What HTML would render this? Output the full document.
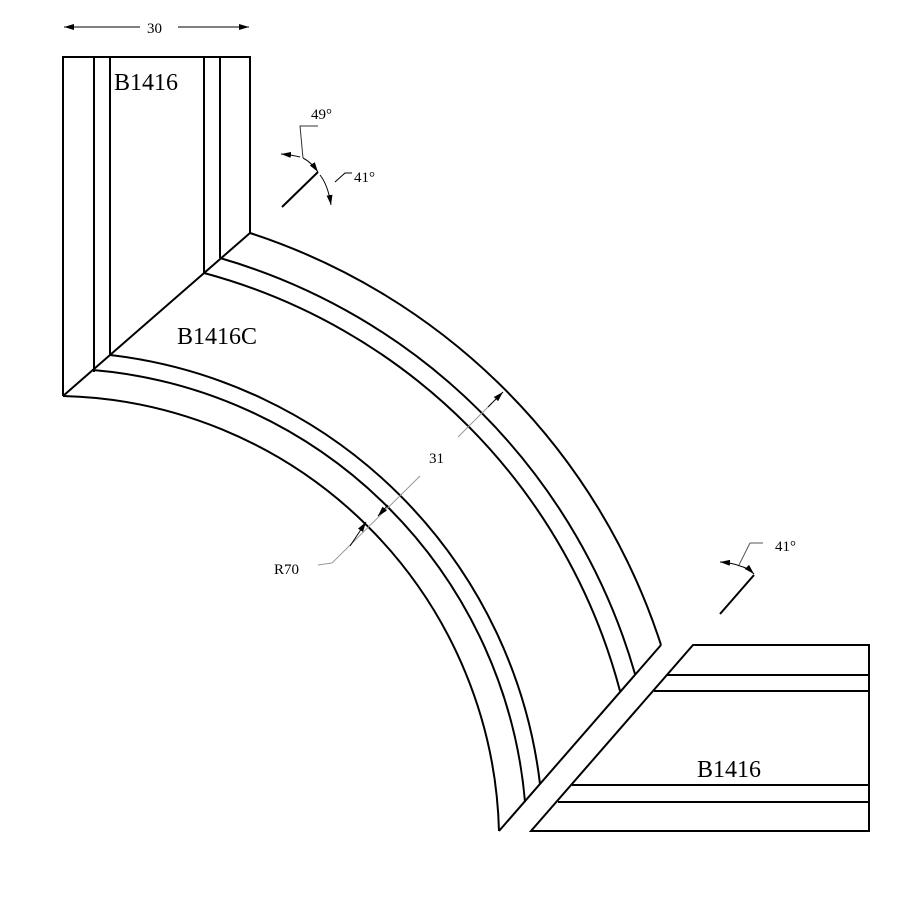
<!DOCTYPE html>
<html><head><meta charset="utf-8"><style>html,body{margin:0;padding:0;background:#fff}svg{display:block}</style></head>
<body>
<svg width="900" height="900" viewBox="0 0 900 900" xmlns="http://www.w3.org/2000/svg">
<defs>
<marker id="a" viewBox="0 0 10 6" refX="10" refY="3" markerWidth="10" markerHeight="6" orient="auto" markerUnits="userSpaceOnUse"><path d="M0,0L10,3L0,6z" fill="#000"/></marker>
</defs>
<g fill="none" stroke="#000" stroke-width="2">
<!-- top block -->
<path d="M63,396 L63,57 L250,57 L250,233"/>
<path d="M94,57 L94,372 M110,57 L110,355 M204,57 L204,273 M220,57 L220,258"/>
<path d="M63,396 L250,233"/>
<!-- arcs centre (52,842) -->
<path d="M63,396 A447,447 0 0 1 499,831"/>
<path d="M93,370 A474,474 0 0 1 525,802"/>
<path d="M110,355 A490,490 0 0 1 540,784"/>
<path d="M204,273 A588,588 0 0 1 620,691"/>
<path d="M220,258 A607,607 0 0 1 635,674"/>
<path d="M250,233 A640,640 0 0 1 661,645"/>
<path d="M661,645 L499,831"/>
<!-- bottom block -->
<path d="M693,645 L869,645 L869,831 L531,831 Z"/>
<path d="M667,675 L869,675 M654,691 L869,691 M572,785 L869,785 M558,802 L869,802"/>
<!-- angle lines -->
<path d="M282,207 L318,172"/>
<path d="M720,614 L754,575"/>
</g>
<g fill="none" stroke="#000" stroke-width="1">
<path d="M140,27 L64,27" marker-end="url(#a)"/>
<path d="M178,27 L249,27" marker-end="url(#a)"/>
<path d="M303,158 L300,126 L318,126" stroke="#333"/>
<path d="M300,157 Q292,155 281,154" marker-end="url(#a)"/>
<path d="M303,158 Q311,162 318,172" marker-end="url(#a)"/>
<path d="M320,175 Q328,185 331,205" marker-end="url(#a)"/>
<path d="M335,182 L345,173 L352,173"/>
<path d="M740,566 Q733,563 720,562" marker-end="url(#a)"/>
<path d="M740,566 Q748,568 754,574" marker-end="url(#a)"/>
<path d="M739,565 L750,543 L763,543" stroke="#555"/>
</g>
<g fill="none" stroke="#999" stroke-width="1">
<path d="M332,563 L420,476"/>
<path d="M458,437 L492,403"/>
<path d="M318,565 L332,563"/>
</g>
<g fill="none" stroke="#000" stroke-width="1">
<path d="M350,546 L366,522" marker-end="url(#a)"/>
<path d="M388,505 L378,516" marker-end="url(#a)"/>
<path d="M488,407 L503,392" marker-end="url(#a)"/>
</g>
<g font-family="Liberation Serif, serif" fill="#000">
<text x="147" y="33" font-size="15">30</text>
<text x="114" y="90" font-size="24">B1416</text>
<text x="177" y="344" font-size="24">B1416C</text>
<text x="697" y="777" font-size="24">B1416</text>
<text x="311" y="119" font-size="15">49°</text>
<text x="354" y="182" font-size="15">41°</text>
<text x="775" y="551" font-size="15">41°</text>
<text x="429" y="463" font-size="15">31</text>
<text x="274" y="574" font-size="15">R70</text>
</g>
</svg>
</body></html>
